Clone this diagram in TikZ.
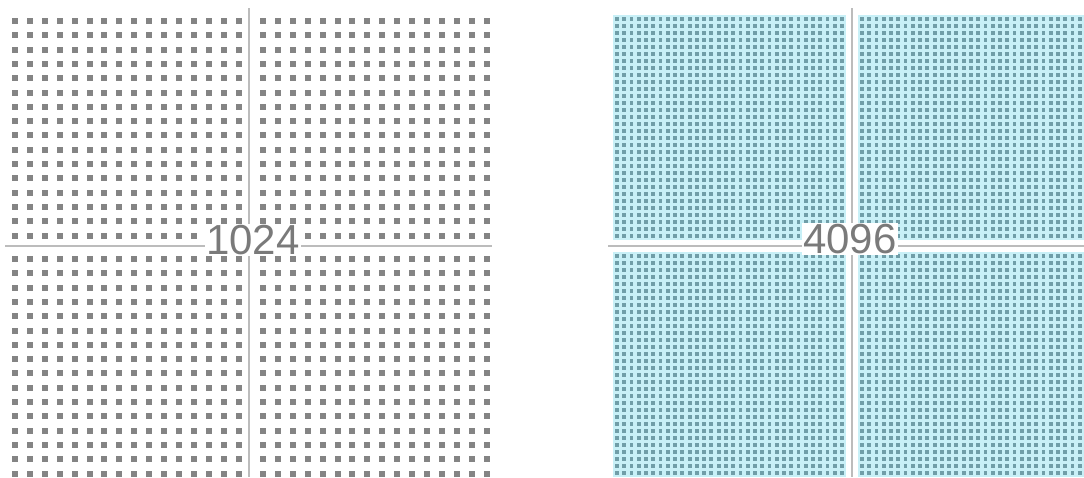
\documentclass[tikz,border=0pt]{standalone}
\usepackage{fontspec}
\setmainfont{Liberation Sans}
\definecolor{dotgray}{RGB}{132,132,132}
\definecolor{rulegray}{RGB}{188,188,188}
\definecolor{numgray}{RGB}{122,122,122}
\definecolor{cellcyan}{RGB}{200,240,247}
\definecolor{dotteal}{RGB}{112,158,168}
\tikzset{
  divider/.style={rulegray,line width=2pt},
  count/.style={fill=white,inner sep=1.5pt,text=numgray,font=\fontsize{42}{42}\selectfont}
}
\begin{document}
\begin{tikzpicture}[x=1pt,y=-1pt]
  \useasboundingbox (0,0) rectangle (1084,477);
  \clip (0,0) rectangle (1084,477);
  % left: 4 blocks of 16 x 16
  \foreach \qx/\qy in {15/21, 263/21, 15/259, 263/259} {
    \foreach \i in {0,...,15} \foreach \j in {0,...,15}
      \fill[dotgray] (\qx+\i*14.9-3,\qy+\j*14.3-3) rectangle ++(6,6);
  }
  % right: 4 blocks of 32 x 32
  \foreach \qx/\qy in {617/19, 862/19, 617/256, 862/256} {
    \fill[cellcyan] (\qx-3.6,\qy-3.6) rectangle ++(232.3,224.2);
    \foreach \i in {0,...,31} \foreach \j in {0,...,31}
      \fill[dotteal] (\qx+\i*7.26-1.9,\qy+\j*7.0-1.9) rectangle ++(3.8,3.8);
  }
  \draw[divider] (249,8) -- (249,477);
  \draw[divider] (5,246) -- (492,246);
  \draw[divider] (852,8) -- (852,477);
  \draw[divider] (608,246) -- (1084,246);
  \node[count] (small) at (253,240) {1024};
  \node[count] (large) at (850,239) {4096};
\end{tikzpicture}
\end{document}
